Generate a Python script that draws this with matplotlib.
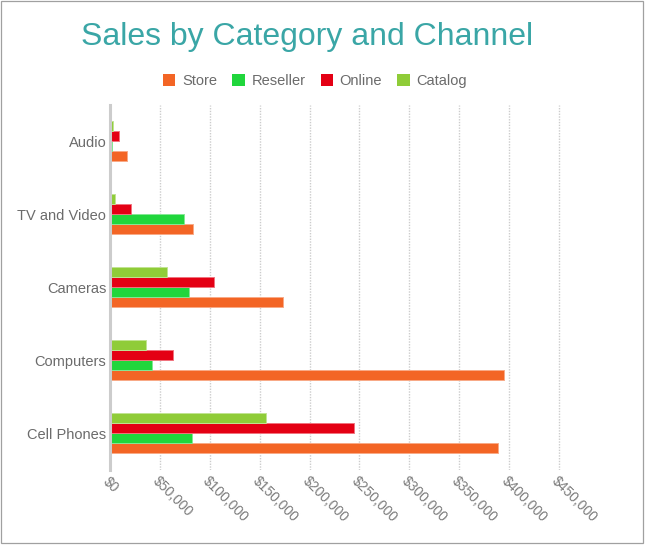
import numpy as np
import matplotlib
matplotlib.use('Agg')
import matplotlib.pyplot as plt
from matplotlib.patches import Patch, Rectangle
from matplotlib.colors import to_rgb
from matplotlib.ticker import FuncFormatter

plt.rcParams['font.family'] = ['Liberation Sans', 'DejaVu Sans']

# data (bottom to top on the chart)
categories = ['Cell Phones', 'Computers', 'Cameras', 'TV and Video', 'Audio']
store = [389000, 395400, 172900, 82500, 16900]
reseller = [81500, 41700, 79100, 73500, 1200]
online = [244500, 62400, 103600, 20300, 8200]
catalog = [156400, 35300, 56400, 4500, 2200]

channels = ['Store', 'Reseller', 'Online', 'Catalog']
colors = ['#f36525', '#20d63c', '#e40014', '#8fcc38']
series = [store, reseller, online, catalog]

fig = plt.figure(figsize=(6.46, 5.46), dpi=100)
ax = fig.add_axes([0.171, 0.1392, 0.7247, 0.6685])

y = np.arange(len(categories))
h = 0.137
for i, (vals, c) in enumerate(zip(series, colors)):
    edge = tuple(0.55 * v + 0.45 for v in to_rgb(c))
    ax.barh(y + (i - 1.5) * h, vals, height=h, color=c,
            edgecolor=edge, linewidth=0.7, zorder=3)

ax.set_xlim(0, 470000)
ax.set_ylim(-0.5, 4.5)
ax.set_yticks(y)
ax.set_yticklabels(categories, fontsize=10.5, color='#6b6b6b')
xt = np.arange(0, 450001, 50000)
ax.set_xticks(xt)
ax.xaxis.set_major_formatter(FuncFormatter(lambda v, p: '${:,.0f}'.format(v)))
for lab in ax.get_xticklabels():
    lab.set_rotation(-45)
    lab.set_ha('left')
    lab.set_va('top')
    lab.set_rotation_mode('anchor')
    lab.set_fontsize(10)
    lab.set_color('#7a7a7a')
ax.tick_params(axis='both', length=0)
ax.tick_params(axis='y', pad=3)
ax.tick_params(axis='x', pad=3)

ax.grid(axis='x', color='#cccccc', linestyle=(0, (1, 1)), linewidth=1, zorder=0)
for s in ['top', 'right', 'bottom']:
    ax.spines[s].set_visible(False)
ax.spines['left'].set_color('#cccccc')
ax.spines['left'].set_linewidth(2.2)
ax.spines['left'].set_zorder(4)

fig.text(0.4748, 1 - 45 / 546, 'Sales by Category and Channel', fontsize=23,
         color='#3aa6a6', ha='center', va='baseline')

handles = [Patch(facecolor=c, edgecolor='none', label=n) for n, c in zip(channels, colors)]
fig.legend(handles=handles, loc='center', bbox_to_anchor=(315 / 646, 1 - 81 / 546),
           ncol=4, frameon=False, fontsize=10.5, labelcolor='#6b6b6b',
           handlelength=0.85, handleheight=0.85, handletextpad=0.45,
           columnspacing=1.05, borderaxespad=0)

fig.add_artist(Rectangle((0.5 / 646, 1 - 542.5 / 546), 642 / 646, 542 / 546,
                         transform=fig.transFigure, fill=False,
                         edgecolor='#a0a0a0', linewidth=0.9))

fig.savefig('out.png', dpi=100, facecolor='white')
